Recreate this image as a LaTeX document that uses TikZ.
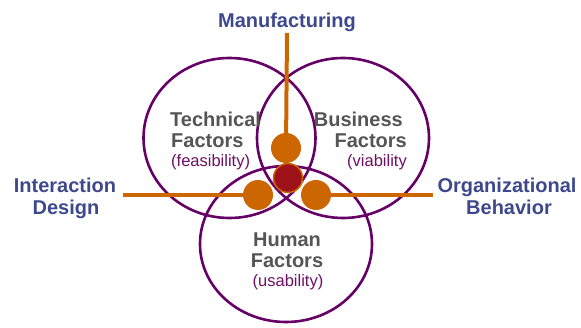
\documentclass[tikz,border=0pt]{standalone}
\usepackage{fontspec}
\setmainfont{Liberation Sans}
\definecolor{venn}{RGB}{102,0,102}
\definecolor{discipline}{RGB}{62,72,140}
\definecolor{factor}{RGB}{85,85,85}
\definecolor{quality}{RGB}{110,16,100}
\definecolor{link}{RGB}{204,102,0}
\definecolor{core}{RGB}{160,18,26}
\begin{document}
\begin{tikzpicture}[x=1pt, y=-1pt,
  ring/.style={draw=venn, line width=2.6pt},
  spoke/.style={draw=link, line width=4pt},
  dot/.style={circle, fill=link, inner sep=0pt, minimum size=30pt},
  area/.style={text=discipline, font=\bfseries\fontsize{20}{22}\selectfont, inner sep=0pt},
  head/.style={text=factor, font=\bfseries\fontsize{20}{22}\selectfont, inner sep=0pt},
  sub/.style={text=quality, font=\fontsize{16.5}{20}\selectfont, inner sep=0pt}]
\useasboundingbox (0,0) rectangle (581,328);
\draw[ring] (229.5,138) ellipse [x radius=86, y radius=80];
\draw[ring] (343,138) ellipse [x radius=86, y radius=80];
\draw[ring] (286,244) ellipse [x radius=86, y radius=78];
\node[dot] (dot0) at (286,148){};
\node[dot] (dot1) at (258,195){};
\node[dot] (dot2) at (316,195){};
\node[dot, fill=core, draw=link, line width=1.5pt, minimum size=29pt] (dot3) at (288,178){};
\coordinate (end0) at (287,33);
\coordinate (end1) at (123,195);
\coordinate (end2) at (433,195);
\draw[spoke] (end0) -- (dot0);
\draw[spoke] (end1) -- (dot1);
\draw[spoke] (end2) -- (dot2);
\node[area, anchor=base] (man) at (287,27.5){Manufacturing};
\node[area, anchor=base] (ixd0) at (65,193){Interaction};
\node[area, anchor=base] (ixd1) at (66,215){Design};
\node[area, anchor=base] (org0) at (507,193){Organizational};
\node[area, anchor=base] (org1) at (509,215){Behavior};
\node[head, anchor=base west] (tech0) at (170,126.7){Technical};
\node[head, anchor=base west] (tech1) at (171,147.7){Factors};
\node[sub, anchor=base west] (tech2) at (171,166.7){(feasibility)};
\node[head, anchor=base east] (bus0) at (403,126.7){Business};
\node[head, anchor=base east] (bus1) at (407,147.7){Factors};
\node[sub, anchor=base east] (bus2) at (407,166.7){(viability};
\node[head, anchor=base] (hum0) at (287,246.7){Human};
\node[head, anchor=base] (hum1) at (287,267.3){Factors};
\node[sub, anchor=base] (hum2) at (288,286.7){(usability)};
\end{tikzpicture}
\end{document}
